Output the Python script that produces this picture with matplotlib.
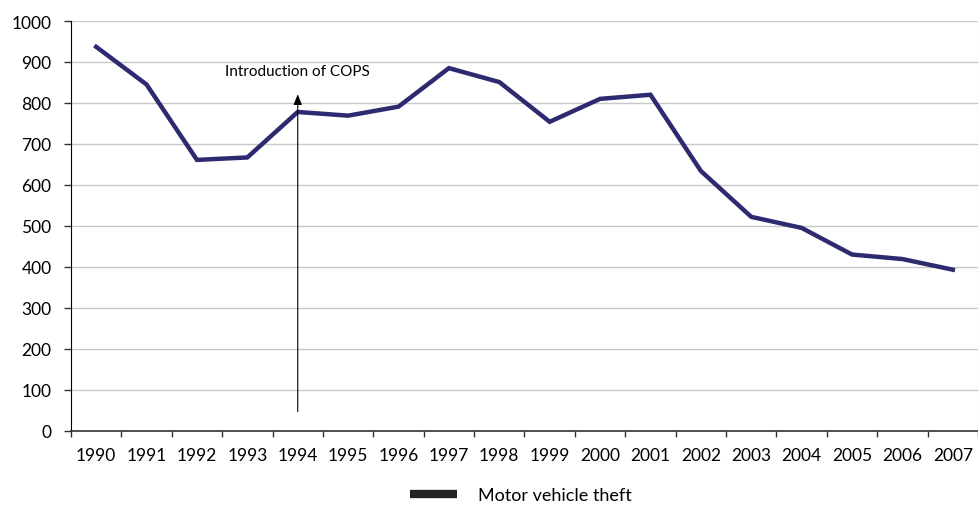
import matplotlib.pyplot as plt
from matplotlib.lines import Line2D

years = ['1990', '1991', '1992', '1993', '1994', '1995', '1996', '1997', '1998',
         '1999', '2000', '2001', '2002', '2003', '2004', '2005', '2006', '2007']
theft = [937, 845, 661, 667, 778, 769, 791, 885, 851,
         754, 810, 820, 634, 522, 495, 430, 419, 393]
cops_year = '1994'
cops_label = 'Introduction of COPS'

plt.rcParams['font.family'] = ['Lato', 'DejaVu Sans']
plt.rcParams['font.size'] = 12.5

fig = plt.figure(figsize=(9.79, 5.06), dpi=100)
ax = fig.add_axes([0.0725, 0.1468, 0.9265, 0.8097])

x = list(range(len(years)))
ax.plot(x, theft, color='#2e2a70', lw=3.2, solid_joinstyle='miter', zorder=3)

ax.set_xlim(-0.5, len(years) - 0.5)
ax.set_ylim(0, 1000)
ax.set_yticks(range(0, 1001, 100))
ax.set_xticks(x)
ax.set_xticklabels(years)
ax.set_xticks([i - 0.5 for i in range(len(years) + 1)], minor=True)
ax.tick_params(axis='x', which='major', length=0, pad=12)
ax.tick_params(axis='x', which='minor', length=4, width=1, color='#333333')
ax.tick_params(axis='y', length=5, width=1, pad=9, color='#333333')
ax.yaxis.grid(True, color='#c8c8c8', lw=1)
ax.set_axisbelow(True)

ax.spines['top'].set_visible(False)
ax.spines['right'].set_color('#bbbbbb')
ax.spines['left'].set_color('black')
ax.spines['bottom'].set_color('#333333')
ax.spines['bottom'].set_linewidth(1.2)

xi = years.index(cops_year)
ax.annotate('', xy=(xi, 828), xytext=(xi, 40),
            arrowprops=dict(arrowstyle='-|>,head_length=0.5,head_width=0.2',
                            color='black', lw=0.8))
ax.text(xi, 877, cops_label, ha='center', va='center', fontsize=11)

handle = Line2D([], [], color='#222222', lw=6, solid_capstyle='butt')
fig.legend([handle], ['Motor vehicle theft'], loc='center', bbox_to_anchor=(0.532, 0.02),
           frameon=False, handlelength=2.6, handletextpad=1.2, fontsize=13)

fig.savefig('out.png', dpi=100)
